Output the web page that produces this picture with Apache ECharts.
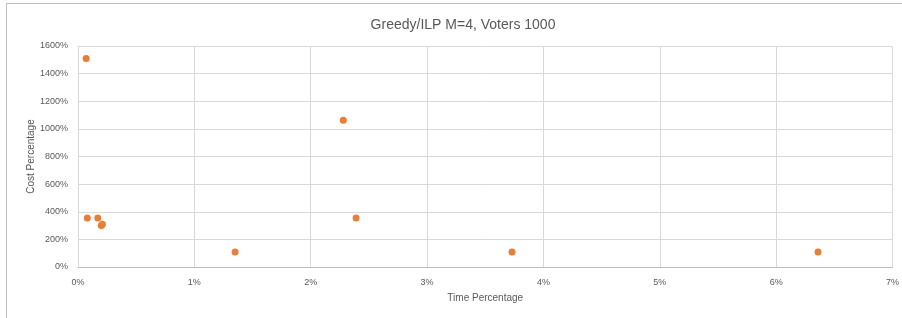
<!DOCTYPE html>
<html>
<head>
<meta charset="utf-8">
<script src="https://cdn.jsdelivr.net/npm/echarts@6/dist/echarts.min.js"></script>
<style>
html,body{margin:0;padding:0;background:#fff;}
#frame{position:absolute;left:6px;top:3px;width:920px;height:340px;border-left:1px solid #bfbfbf;border-top:1px solid #bfbfbf;}
#chart{position:absolute;left:0;top:0;width:902px;height:318px;}
</style>
</head>
<body>
<div id="frame"></div>
<div id="chart"></div>
<script>
const titleText = "Greedy/ILP M=4, Voters 1000";
const xAxisName = "Time Percentage";
const yAxisName = "Cost Percentage";
const timePct = [0.07, 0.08, 0.17, 0.20, 0.21, 1.35, 2.28, 2.39, 3.73, 6.36];
const costPct = [1510, 355, 355, 300, 310, 109, 1063, 355, 109, 109];

const points = timePct.map((t, i) => [t, costPct[i]]);
const chart = echarts.init(document.getElementById('chart'), null, {renderer: 'canvas'});
const font = '"Liberation Sans", "DejaVu Sans", sans-serif';
chart.setOption({
  animation: false,
  backgroundColor: 'transparent',
  title: {
    text: titleText, left: 458, top: 13, textAlign: 'center',
    textStyle: {fontFamily: font, fontSize: 14, fontWeight: 'normal', color: '#595959'}
  },
  grid: {left: 78, right: 9, top: 46, bottom: 51, containLabel: false},
  xAxis: {
    type: 'value', min: 0, max: 7, interval: 1,
    name: xAxisName, nameLocation: 'middle', nameGap: 26, nameMoveOverlap: false,
    nameTextStyle: {fontFamily: font, fontSize: 10, color: '#595959'},
    axisLine: {show: true, lineStyle: {color: '#bfbfbf', width: 1}},
    axisTick: {show: false},
    axisLabel: {formatter: v => v + '%', fontFamily: font, fontSize: 9, color: '#595959', margin: 11},
    splitLine: {show: true, lineStyle: {color: '#d9d9d9', width: 1}}
  },
  yAxis: {
    type: 'value', min: 0, max: 1600, interval: 200,
    name: yAxisName, nameLocation: 'middle', nameGap: 42, nameRotate: 90, nameMoveOverlap: false,
    nameTextStyle: {fontFamily: font, fontSize: 10, color: '#595959'},
    axisLine: {show: false},
    axisTick: {show: false},
    axisLabel: {formatter: v => v + '%', fontFamily: font, fontSize: 9, color: '#595959', margin: 10},
    splitLine: {show: true, lineStyle: {color: '#d9d9d9', width: 1}}
  },
  series: [{
    type: 'scatter', data: points, symbol: 'circle', symbolSize: 7,
    itemStyle: {color: '#ED7D31', opacity: 1}
  }]
});
</script>
</body>
</html>
